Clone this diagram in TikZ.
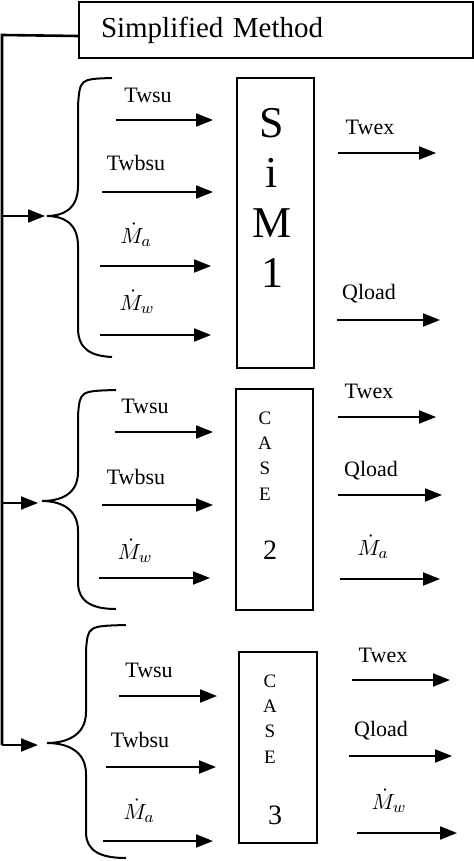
\documentclass[tikz,border=0pt]{standalone}
\usepackage{amsmath,amssymb}
\usepackage{fontspec}
\setmainfont{Liberation Serif}
\usetikzlibrary{arrows.meta}

\tikzset{
  flow/.style={line width=1pt,-{Triangle[length=8.5pt,width=6.5pt]}},
  trunk/.style={line width=1.3pt},
  brc/.style={line width=1pt},
  blk/.style={draw,line width=1pt},
  lbl/.style={font=\fontsize{11}{13}\selectfont,inner sep=0pt},
}

\begin{document}
\begin{tikzpicture}[x=0.5pt,y=-0.5pt]
\useasboundingbox (0,0) rectangle (474,861);
\node (title) [blk,anchor=north west,minimum height=28pt,text width=175pt,
  inner xsep=11pt,align=left,font=\fontsize{14.5}{17}\selectfont] at (78,1) {Simplified\hspace{4.7pt}Method};
\coordinate (top) at (2,35);
\coordinate (b1) at (2,216);
\coordinate (b2) at (2,503);
\coordinate (b3) at (2,745);
\coordinate (t1) at (45,216);
\coordinate (t2) at (38,503);
\coordinate (t3) at (38,745);
\draw[trunk] ([yshift=-3pt]title.west) -- (top) -- (b3);
\draw[flow] (b1) -- (t1);
\draw[flow] (b2) -- (t2);
\draw[flow] (b3) -- (t3);

% first block
\draw[brc] (112,78) .. controls (80,79) .. (78,105) -- (78,186)
  .. controls (78,210) and (62,216) .. (47,216) .. controls (62,216) and (78,222) .. (78,246)
  -- (78,328) .. controls (78,350) and (92,356) .. (112,357);
\node (sim) [blk,minimum width=38.5pt,minimum height=145pt] at (275.5,223) {};
\node (simtxt) [align=center,inner sep=0pt,font=\fontsize{22}{25}\selectfont] at (272,198) {S\\i\\M\\1};
\coordinate (a1) at (116,120);  \coordinate (a1e) at (213,120);
\coordinate (a2) at (102,192);  \coordinate (a2e) at (213,192);
\coordinate (a3) at (100,266);  \coordinate (a3e) at (211,266);
\coordinate (a4) at (100,335);  \coordinate (a4e) at (211,335);
\coordinate (o1) at (338,153);  \coordinate (o1e) at (436,153);
\coordinate (o2) at (337,320);  \coordinate (o2e) at (440,320);
\draw[flow] (a1) -- (a1e);
\draw[flow] (a2) -- (a2e);
\draw[flow] (a3) -- (a3e);
\draw[flow] (a4) -- (a4e);
\draw[flow] (o1) -- (o1e);
\draw[flow] (o2) -- (o2e);
\node[lbl] (la1) at (148,95) {Twsu};
\node[lbl] (la2) at (136,163) {Twbsu};
\node[lbl] (la3) at (136,235) {$\dot{M}_a$};
\node[lbl] (la4) at (137,302) {$\dot{M}_w$};
\node[lbl] (lo1) at (370,127) {Twex};
\node[lbl] (lo2) at (369,294) {Qload};

% second block
\draw[brc] (116,390) .. controls (80,391) .. (78,415) -- (78,472)
  .. controls (78,496) and (58,501) .. (42,501) .. controls (58,501) and (78,507) .. (78,531)
  -- (78,582) .. controls (78,603) and (94,609) .. (116,609);
\node (case2) [blk,minimum width=38.5pt,minimum height=110.5pt] at (274.5,499.5) {};
\node (c2txt) [align=center,inner sep=0pt,font=\fontsize{9.5}{12.7}\selectfont] at (265,456) {C\\A\\S\\E};
\node (c2num) [inner sep=0pt,font=\fontsize{14}{16}\selectfont] at (270,550) {2};
\coordinate (p1) at (115,432);  \coordinate (p1e) at (213,432);
\coordinate (p2) at (102,505);  \coordinate (p2e) at (213,505);
\coordinate (p3) at (99,578);   \coordinate (p3e) at (210,578);
\coordinate (q1) at (338,417);  \coordinate (q1e) at (436,417);
\coordinate (q2) at (338,495);  \coordinate (q2e) at (442,495);
\coordinate (q3) at (340,579);  \coordinate (q3e) at (440,579);
\draw[flow] (p1) -- (p1e);
\draw[flow] (p2) -- (p2e);
\draw[flow] (p3) -- (p3e);
\draw[flow] (q1) -- (q1e);
\draw[flow] (q2) -- (q2e);
\draw[flow] (q3) -- (q3e);
\node[lbl] (lp1) at (145,406) {Twsu};
\node[lbl] (lp2) at (136,477) {Twbsu};
\node[lbl] (lp3) at (135,551) {$\dot{M}_w$};
\node[lbl] (lq1) at (369,391) {Twex};
\node[lbl] (lq2) at (371,471) {Qload};
\node[lbl] (lq3) at (373,547) {$\dot{M}_a$};

% third block
\draw[brc] (126,625) .. controls (88,626) .. (86,650) -- (86,712)
  .. controls (86,737) and (64,743) .. (47,743) .. controls (64,743) and (86,749) .. (86,774)
  -- (86,832) .. controls (86,852) and (102,858) .. (126,858);
\node (case3) [blk,minimum width=39pt,minimum height=95.5pt] at (278,747.5) {};
\node (c3txt) [align=center,inner sep=0pt,font=\fontsize{9.5}{12.7}\selectfont] at (270,719) {C\\A\\S\\E};
\node (c3num) [inner sep=0pt,font=\fontsize{14}{16}\selectfont] at (275,815) {3};
\coordinate (r1) at (119,696);  \coordinate (r1e) at (217,696);
\coordinate (r2) at (106,767);  \coordinate (r2e) at (216,767);
\coordinate (r3) at (103,841);  \coordinate (r3e) at (213,841);
\coordinate (s1) at (352,680);  \coordinate (s1e) at (450,680);
\coordinate (s2) at (349,756);  \coordinate (s2e) at (452,756);
\coordinate (s3) at (357,833);  \coordinate (s3e) at (457,833);
\draw[flow] (r1) -- (r1e);
\draw[flow] (r2) -- (r2e);
\draw[flow] (r3) -- (r3e);
\draw[flow] (s1) -- (s1e);
\draw[flow] (s2) -- (s2e);
\draw[flow] (s3) -- (s3e);
\node[lbl] (lr1) at (149,670) {Twsu};
\node[lbl] (lr2) at (140,740) {Twbsu};
\node[lbl] (lr3) at (139,811) {$\dot{M}_a$};
\node[lbl] (ls1) at (383,655) {Twex};
\node[lbl] (ls2) at (381,731) {Qload};
\node[lbl] (ls3) at (389,801) {$\dot{M}_w$};
\end{tikzpicture}
\end{document}
